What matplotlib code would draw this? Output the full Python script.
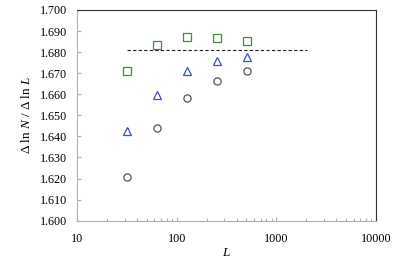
import matplotlib
matplotlib.use("Agg")
import matplotlib.pyplot as plt
from matplotlib.ticker import FixedLocator, FormatStrFormatter, LogLocator, NullFormatter

plt.rcParams['font.family'] = 'Liberation Serif'
plt.rcParams['mathtext.fontset'] = 'custom'
plt.rcParams['mathtext.rm'] = 'Liberation Serif'
plt.rcParams['mathtext.it'] = 'Liberation Serif:italic'

# data
L = [32, 64, 128, 256, 512]
squares = [1.6710, 1.6834, 1.6872, 1.6865, 1.6851]
triangles = [1.6426, 1.6597, 1.6709, 1.6760, 1.6777]
circles = [1.6209, 1.6438, 1.6582, 1.6665, 1.6709]
line_L = [32, 2048]
line_y = [1.681, 1.681]

fig = plt.figure(figsize=(4.15, 2.67), dpi=100)
ax = fig.add_axes([77/415, 1 - 220.7/267, (375.7-77)/415, (220.7-10)/267])

ax.plot(L, squares, ls='none', marker='s', ms=5.2, mfc='none', mec='#2e9a2e', mew=0.9)
ax.plot(L, triangles, ls='none', marker='^', ms=5.2, mfc='none', mec='#3a4fc0', mew=0.9)
ax.plot(L, circles, ls='none', marker='o', ms=5.2, mfc='none', mec='#555555', mew=0.9)
ax.plot(line_L, line_y, ls=(0, (3, 2)), color='#222222', lw=0.8)

ax.set_xscale('log')
ax.set_xlim(10, 10000)
ax.set_ylim(1.6, 1.7)
ax.yaxis.set_major_locator(FixedLocator([1.6 + 0.01 * i for i in range(11)]))
ax.yaxis.set_major_formatter(FormatStrFormatter('%.3f'))
ax.xaxis.set_major_locator(LogLocator(base=10))
ax.xaxis.set_minor_locator(LogLocator(base=10, subs=range(2, 10)))
ax.xaxis.set_minor_formatter(NullFormatter())
ax.xaxis.set_major_formatter(FormatStrFormatter('%d'))

for s in ['left', 'bottom']:
    ax.spines[s].set_color('#b0b0b0')
for s in ['top', 'right']:
    ax.spines[s].set_color('#333333')
for s in ax.spines.values():
    s.set_linewidth(0.8)

ax.tick_params(axis='both', which='both', direction='in', color='#b0b0b0',
               labelsize=8.7, width=0.8)
ax.tick_params(axis='y', length=3, pad=7)
ax.tick_params(axis='x', which='major', length=3, pad=9)
ax.tick_params(axis='x', which='minor', length=2)

ax.set_xlabel(r'$L$', fontsize=9.5, labelpad=1)
ax.set_ylabel(r'$\Delta\ \mathrm{ln}\ N\ /\ \Delta\ \mathrm{ln}\ L$', fontsize=9.5, labelpad=5)

fig.savefig('out.png', dpi=100)
